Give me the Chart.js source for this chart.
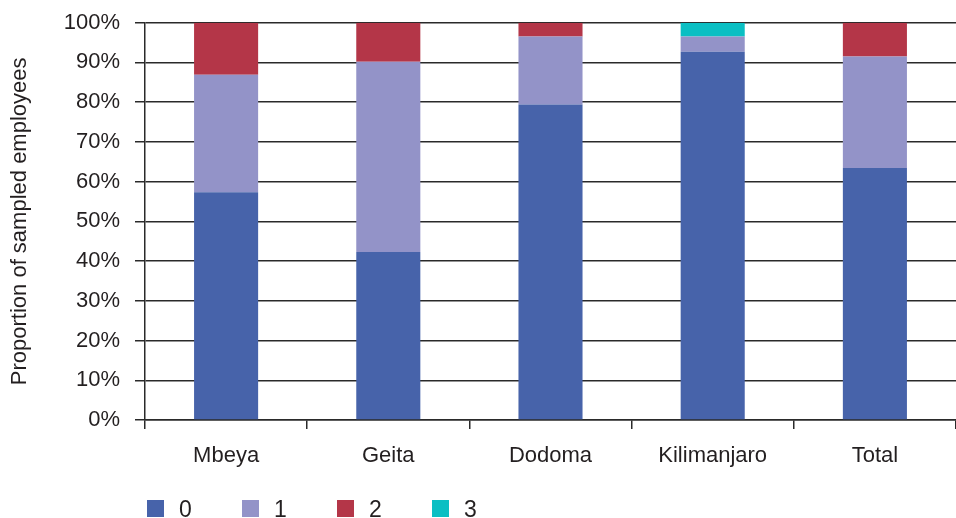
<!DOCTYPE html>
<html>
<head>
<meta charset="utf-8">
<script src="https://cdn.jsdelivr.net/npm/chart.js@4.4.1/dist/chart.umd.min.js"></script>
<style>
	html, body { margin: 0; padding: 0; background: #fff; overflow: hidden; }
	#wrap { position: relative; width: 956px; height: 518px; }
	#legend { position: absolute; left: 147px; top: 500px; display: flex; margin: 0; padding: 0; list-style: none; }
	#legend li { width: 95px; display: flex; align-items: center; height: 17px; }
	#legend .box { width: 17px; height: 17px; margin-right: 15px; }
	#legend .txt { font: 23px 'Liberation Sans', Arial, sans-serif; color: #231f20; line-height: 17px; position: relative; top: 1px; }
</style>
</head>
<body>
<div id="wrap">
	<canvas id="chart"></canvas>
	<ul id="legend"></ul>
</div>
<script>
const categories = ['Mbeya', 'Geita', 'Dodoma', 'Kilimanjaro', 'Total'];
const seriesNames = ['0', '1', '2', '3'];
const values0 = [57.3, 42.3, 79.4, 92.7, 63.4];
const values1 = [29.6, 47.9, 17.1, 3.8, 28.1];
const values2 = [13.1, 9.8, 3.5, 0, 8.5];
const values3 = [0, 0, 0, 3.5, 0];
const seriesColors = ['#4763aa', '#9393c8', '#b43648', '#0abfc3'];
const yTicks = [0, 10, 20, 30, 40, 50, 60, 70, 80, 90, 100];

const FONT = "'Liberation Sans', Arial, sans-serif";
const INK = '#231f20';
const GRID = '#2a2a2a';

const datasets = [values0, values1, values2, values3].map((vals, i) => ({
	label: seriesNames[i],
	data: vals,
	backgroundColor: seriesColors[i],
	borderWidth: 0,
	categoryPercentage: 1,
	barPercentage: 0.395,
}));

const chart = new Chart(document.getElementById('chart'), {
	type: 'bar',
	data: { labels: categories, datasets: datasets },
	options: {
		responsive: true,
		maintainAspectRatio: false,
		animation: false,
		layout: { padding: { top: 22.7, right: 0, left: 0, bottom: 0 } },
		plugins: {
			tooltip: { enabled: false },
			legend: { display: false },
		},
		scales: {
			x: {
				stacked: true,
				offset: true,
				afterFit: (axis) => {
					axis.height = 98;
				},
				grid: {
					display: true,
					offset: true,
					drawOnChartArea: false,
					tickLength: 9,
					color: GRID,
					lineWidth: 1.5,
				},
				border: { display: true, color: GRID, width: 1.5 },
				ticks: {
					color: INK,
					font: { family: FONT, size: 22 },
					padding: 14,
				},
			},
			y: {
				stacked: true,
				min: 0,
				max: 100,
				afterBuildTicks: (axis) => {
					axis.ticks = yTicks.map((v) => ({ value: v }));
				},
				afterFit: (axis) => {
					axis.width = 145;
					// top spacing comes from layout.padding instead of label padding
					axis.paddingTop = 0;
				},
				grid: {
					color: GRID,
					lineWidth: 1.5,
					tickLength: 10,
				},
				border: { display: true, color: GRID, width: 1.5 },
				ticks: {
					color: INK,
					font: { family: FONT, size: 22 },
					padding: 15,
					callback: (v) => v + '%',
				},
				title: {
					display: true,
					text: 'Proportion of sampled employees',
					color: INK,
					font: { family: FONT, size: 22 },
					padding: { top: 7, bottom: 0 },
				},
			},
		},
	},
});

// HTML legend built from the chart's datasets
const legendEl = document.getElementById('legend');
chart.data.datasets.forEach((ds) => {
	const li = document.createElement('li');
	li.innerHTML = `<span class="box" style="background:${ds.backgroundColor}"></span><span class="txt">${ds.label}</span>`;
	legendEl.appendChild(li);
});
</script>
</body>
</html>
